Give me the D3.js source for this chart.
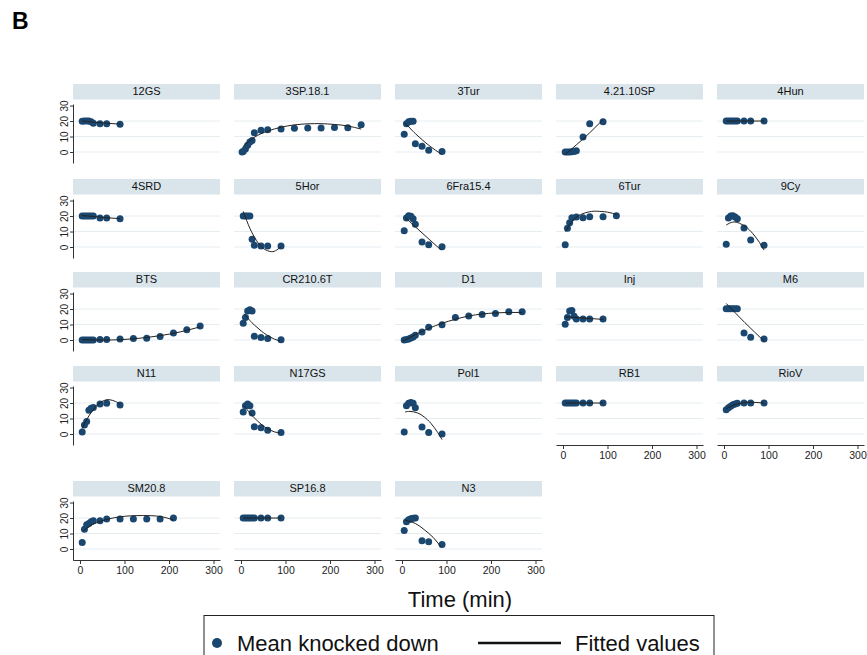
<!DOCTYPE html>
<html>
<head>
<meta charset="utf-8">
<script src="https://cdn.jsdelivr.net/npm/d3@7"></script>
<style>
  body { margin: 0; background: #fff; }
  text { font-family: "Liberation Sans", Arial, sans-serif; }
</style>
</head>
<body>
<div id="chart"></div>
<script>
// panels in plot order
var panelNames = ["12GS", "3SP.18.1", "3Tur", "4.21.10SP", "4Hun",
    "4SRD", "5Hor", "6Fra15.4", "6Tur", "9Cy",
    "BTS", "CR210.6T", "D1", "Inj", "M6",
    "N11", "N17GS", "Pol1", "RB1", "RioV",
    "SM20.8", "SP16.8", "N3"];

// time points (min)
var tShort = [5, 10, 15, 20, 25, 30, 45, 60, 90];
var tLong = [5, 10, 15, 20, 25, 30, 45, 60, 90, 120, 150, 180, 210, 240, 270];
var t3SP = [2.5, 5, 10, 15, 20, 25, 30, 45, 60, 90, 120, 150, 180, 210, 240, 270];
var t6Tur = [5, 10, 15, 20, 30, 45, 60, 90, 120];
var tSM = [5, 10, 15, 20, 25, 30, 45, 60, 90, 120, 150, 180, 210];

var panelTimes = [tShort, t3SP, tShort, tShort, tShort,
    tShort, tShort, tShort, t6Tur, tShort,
    tLong, tShort, tLong, tShort, tShort,
    tShort, tShort, tShort, tShort, tShort,
    tSM, tShort, tShort];

// mean knocked down
var knockedDown = [
    [19.8, 20, 20, 20, 19.5, 18.5, 18.3, 18.3, 18.0],
    [0, 0.4, 2, 4.3, 6.5, 7.5, 12.5, 14, 14.4, 14.8, 15.3, 15.5, 15.5, 15.9, 15.7, 17.6],
    [11.4, 18.3, 19.6, 19.8, 19.8, 5.4, 3.7, 1.1, 0.4],
    [0, 0, 0, 0.2, 0.4, 0.8, 9.7, 18.3, 19.6],
    [20, 20, 20, 20, 20, 20, 20, 20, 20],
    [20, 20, 20, 20, 20, 20, 18.7, 18.7, 18.2],
    [20, 20, 20, 20, 5, 1.1, 0.7, 0.7, 0.7],
    [10.5, 18.7, 20.2, 19.8, 18.2, 14.7, 3.3, 1.5, 0.2],
    [1.5, 12.1, 15.6, 18.9, 19.3, 18.9, 19.6, 19.6, 20.2],
    [1.8, 18.7, 20, 20.2, 19.3, 18.2, 12.3, 4.6, 1.1],
    [0, 0, 0, 0, 0, 0, 0.4, 0.4, 0.6, 0.9, 1.1, 2.2, 4.5, 6.7, 9],
    [10.8, 14.6, 18.7, 19.6, 18.7, 2.5, 1.6, 0.9, 0.2],
    [0, 0.3, 0.7, 1.3, 2, 3.1, 5.2, 8.3, 9.9, 14.6, 15.5, 16.4, 17.1, 18.2, 18.2],
    [10.1, 14.6, 18.7, 19.1, 15.3, 13.5, 13.5, 13.5, 13.5],
    [20.2, 20.2, 20.2, 20.2, 20.2, 20.2, 4.5, 1.8, 0.7],
    [1.3, 5.8, 8.1, 15.3, 16.6, 17.1, 19.3, 19.8, 18.7],
    [14.2, 18.2, 19.3, 18.2, 13.5, 4.7, 4, 2.5, 0.9],
    [1.3, 18.2, 19.8, 20.4, 19.8, 16.9, 4.5, 0.9, 0],
    [20, 20, 20, 20, 20, 20, 20, 20, 20],
    [15.7, 16.9, 18, 18.9, 19.4, 19.8, 20, 20, 20],
    [4.2, 12.7, 15.6, 16.4, 17.6, 18.2, 18.2, 19.3, 19.3, 19.3, 19.3, 19.3, 20],
    [20, 20, 20, 20, 20, 20, 20, 20, 20],
    [12, 17.6, 18.9, 19.6, 19.8, 20, 5.3, 4.7, 2.9]
];

// fitted values [time, value]
var fitted = [
    [[5, 20.1], [30, 19.3], [60, 18.6], [90, 18.0]],
    [[5, 3.7], [30, 9.5], [60, 13.5], [90, 16], [120, 17.5], [150, 18.2], [180, 18.3], [210, 17.8], [240, 16.8], [270, 14.8]],
    [[7, 18.7], [20, 14.8], [30, 11.9], [47, 7.5], [60, 4.4], [75, 1.2], [88, -1.3]],
    [[5, -1.6], [30, 4.6], [60, 12.4], [90, 20.9]],
    [[5, 20], [90, 20]],
    [[5, 20.3], [30, 19.7], [60, 18.9], [90, 18.3]],
    [[5, 23], [20, 12.1], [35, 4.1], [50, -0.9], [68, -3], [80, -2], [90, 0.2]],
    [[7, 19.1], [47, 8.6], [88, -2]],
    [[6, 9.9], [15, 14.5], [25, 18], [40, 21], [60, 22.8], [76, 23.1], [100, 22.5], [121, 20.9]],
    [[5, 14.2], [20, 16.1], [35, 15.3], [50, 12.8], [65, 8.6], [80, 2.8], [90, -2]],
    [[5, 0.3], [45, 0], [90, 0.2], [135, 1.2], [180, 2.8], [225, 5.2], [270, 8.5]],
    [[7, 16.9], [20, 12.6], [30, 9.7], [47, 5.5], [60, 2.9], [75, 0.6], [88, -0.7]],
    [[3, -0.5], [30, 3.5], [60, 7.5], [90, 10.8], [120, 13.4], [150, 15.5], [180, 16.8], [210, 17.5], [240, 17.8], [270, 17.8]],
    [[5, 15], [45, 14.2], [90, 13.3]],
    [[5, 23.6], [47, 11.2], [90, -0.7]],
    [[5, 3.6], [20, 11.7], [40, 19], [55, 21.7], [65, 22.2], [80, 21], [90, 19]],
    [[7, 18.2], [20, 13.5], [30, 10.4], [45, 6.4], [60, 3.4], [75, 1.4], [88, 0.7]],
    [[7, 14.2], [18, 14.6], [35, 13.6], [50, 11], [65, 6.9], [80, 1.1], [90, -3.6]],
    [[5, 20], [90, 20]],
    [[4, 16.2], [20, 18.5], [40, 20], [60, 20.5], [90, 20]],
    [[8, 11.6], [20, 14.5], [45, 17.8], [90, 20.8], [140, 21.6], [180, 21], [210, 18.7]],
    [[5, 20], [90, 20]],
    [[7, 18.7], [30, 16.5], [50, 12.5], [70, 7.5], [88, 1.1]]
];

var xTicks = [0, 100, 200, 300];
var yTicks = [0, 10, 20, 30];
var gridTicks = [0, 10, 20];

// canvas
var svg_width = 867;
var svg_height = 655;

var svg = d3.select("#chart")
    .append("svg")
    .attr("width", svg_width)
    .attr("height", svg_height);

var markerColor = "#1a476f";
var stripColor = "#d9e4eb";
var gridColor = "#e6edf1";

// grid layout
var stripTops = [84, 179, 272, 366, 481];
var left0 = 73;
var colStep = 161;
var panelW = 147;
var nCols = 5;
var nPanels = panelNames.length;

panelNames.forEach(function(name, i) {
    var r = Math.floor(i / nCols);
    var c = i % nCols;
    var px = left0 + c * colStep;
    var top = stripTops[r];

    var xScale = d3.scaleLinear()
        .domain([-15.7, 314.6])
        .range([px, px + panelW]);

    var yScale = d3.scaleLinear()
        .domain([-7.1, 31])
        .range([top + 79, top + 20]);

    var g = svg.append("g");

    // strip
    g.append("rect")
        .attr("x", px)
        .attr("y", top)
        .attr("width", panelW)
        .attr("height", 15.5)
        .attr("fill", stripColor);

    g.append("text")
        .attr("x", px + panelW / 2)
        .attr("y", top + 11.3)
        .attr("text-anchor", "middle")
        .attr("font-size", 11)
        .attr("fill", "#111")
        .text(name);

    // gridlines
    g.selectAll(".grid")
        .data(gridTicks)
        .enter()
        .append("line")
        .attr("x1", px)
        .attr("x2", px + panelW)
        .attr("y1", d => yScale(d))
        .attr("y2", d => yScale(d))
        .attr("stroke", gridColor)
        .attr("stroke-width", 1);

    // y axis on first column
    if (c === 0) {
        var yAxis = g.append("g")
            .attr("transform", `translate(${px}, 0)`)
            .call(d3.axisLeft(yScale).tickValues(yTicks).tickSize(3).tickSizeOuter(0));
        yAxis.select(".domain").attr("stroke", "#333");
        yAxis.selectAll(".tick line").attr("stroke", "#333");
        yAxis.selectAll(".tick text")
            .attr("transform", "rotate(-90)")
            .attr("x", 0)
            .attr("y", -5)
            .attr("dy", 0)
            .attr("text-anchor", "middle")
            .attr("font-size", 10)
            .attr("font-family", "Liberation Sans, Arial, sans-serif")
            .attr("fill", "#222");
    }

    // x axis on bottom panel of each column
    if (i + nCols >= nPanels) {
        var xAxis = g.append("g")
            .attr("transform", `translate(0, ${top + 79})`)
            .call(d3.axisBottom(xScale).tickValues(xTicks).tickSize(4).tickSizeOuter(0).tickPadding(3));
        xAxis.select(".domain").attr("stroke", "#333");
        xAxis.selectAll(".tick line").attr("stroke", "#333");
        xAxis.selectAll(".tick text")
            .attr("font-size", 10.5)
            .attr("font-family", "Liberation Sans, Arial, sans-serif")
            .attr("fill", "#222");
    }

    // points
    var pts = panelTimes[i].map(function(t, k) {
        return { t: t, v: knockedDown[i][k] };
    });

    g.selectAll("circle")
        .data(pts)
        .enter()
        .append("circle")
        .attr("cx", d => xScale(d.t))
        .attr("cy", d => yScale(d.v))
        .attr("r", 3.5)
        .attr("fill", markerColor);

    // fitted line
    var line = d3.line()
        .x(d => xScale(d[0]))
        .y(d => yScale(d[1]))
        .curve(d3.curveNatural);

    g.append("path")
        .datum(fitted[i])
        .attr("d", line)
        .attr("fill", "none")
        .attr("stroke", "#222")
        .attr("stroke-width", 1);
});

// x axis title
svg.append("text")
    .attr("x", 460)
    .attr("y", 607)
    .attr("text-anchor", "middle")
    .attr("font-size", 22)
    .attr("fill", "#111")
    .text("Time (min)");

// legend
var legend = svg.append("g");
legend.append("rect")
    .attr("x", 204)
    .attr("y", 615.5)
    .attr("width", 510)
    .attr("height", 60)
    .attr("fill", "none")
    .attr("stroke", "#222")
    .attr("stroke-width", 1);
legend.append("circle")
    .attr("cx", 217)
    .attr("cy", 643)
    .attr("r", 5)
    .attr("fill", markerColor);
legend.append("text")
    .attr("x", 237)
    .attr("y", 651)
    .attr("font-size", 22)
    .attr("fill", "#111")
    .text("Mean knocked down");
legend.append("line")
    .attr("x1", 478)
    .attr("x2", 561)
    .attr("y1", 643)
    .attr("y2", 643)
    .attr("stroke", "#111")
    .attr("stroke-width", 2.5);
legend.append("text")
    .attr("x", 575)
    .attr("y", 651)
    .attr("font-size", 22)
    .attr("fill", "#111")
    .text("Fitted values");

// panel letter
svg.append("text")
    .attr("x", 12)
    .attr("y", 29)
    .attr("font-size", 23)
    .attr("font-weight", "bold")
    .attr("fill", "#000")
    .text("B");
</script>
</body>
</html>
